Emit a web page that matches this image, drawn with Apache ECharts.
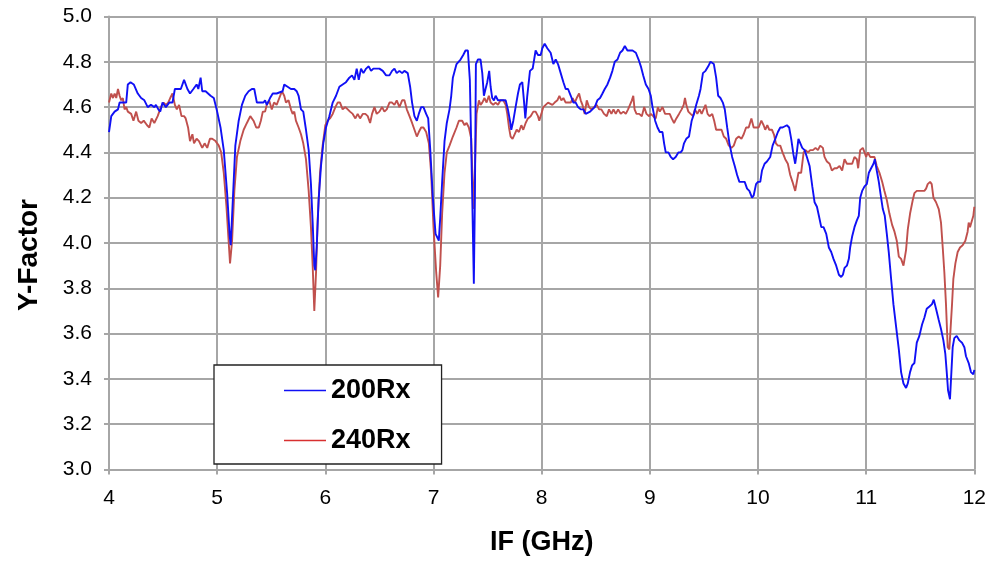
<!DOCTYPE html>
<html>
<head>
<meta charset="utf-8">
<script src="https://cdn.jsdelivr.net/npm/echarts@6/dist/echarts.min.js"></script>
<style>
  html, body { margin: 0; padding: 0; background: #fff; }
  #chart { width: 989px; height: 562px; }
</style>
</head>
<body>
<div id="chart"></div>
<script>
// IF frequency (GHz) and measured Y-factor for the 200 GHz receiver
const freq200 = [
  4.000,4.021,4.052,4.083,4.098,4.128,4.159,4.174,4.199,4.229,4.266,4.297,4.327,4.358,4.388,4.419,4.434,4.456,4.474,4.495,
  4.526,4.557,4.587,4.609,4.633,4.664,4.694,4.725,4.749,4.780,4.810,4.826,4.847,4.862,4.893,4.939,4.969,5.000,5.031,5.061,
  5.092,5.116,5.125,5.138,5.168,5.199,5.229,5.260,5.291,5.321,5.343,5.367,5.398,5.428,5.443,5.459,5.489,5.514,5.550,
  5.605,5.620,5.651,5.682,5.713,5.735,5.753,5.775,5.796,5.821,5.846,5.867,5.883,5.898,5.907,5.920,5.938,5.960,5.981,6.006,
  6.037,6.068,6.099,6.130,6.160,6.191,6.222,6.247,6.269,6.290,6.309,6.330,6.352,6.377,6.401,6.423,6.444,6.469,6.500,6.531,
  6.562,6.593,6.617,6.639,6.660,6.685,6.710,6.731,6.762,6.784,6.802,6.824,6.846,6.864,6.886,6.907,6.932,6.951,6.969,6.994,
  7.019,7.040,7.049,7.062,7.080,7.102,7.123,7.148,7.164,7.179,
  7.213,7.250,7.275,7.296,7.318,7.336,7.349,7.361,7.373,7.383,7.392,7.410,7.435,7.451,7.466,7.481,7.497,7.515,7.528,7.543,
  7.559,7.574,7.596,7.620,7.645,7.667,7.688,7.707,7.719,7.738,7.759,7.781,7.799,7.821,7.836,7.849,7.867,7.892,7.917,7.944,
  7.966,7.991,8.006,8.028,8.052,8.083,8.108,8.130,8.151,8.176,8.201,8.222,8.244,8.269,8.293,8.315,8.336,8.361,8.386,8.407,
  8.423,8.448,8.469,8.491,8.515,8.540,8.562,8.583,8.608,8.633,8.654,8.676,8.701,8.725,8.747,8.769,8.793,
  8.840,8.871,8.896,8.917,8.939,8.963,8.988,9.009,9.025,9.049,9.071,9.092,9.117,9.132,9.147,9.172,9.193,9.215,9.239,9.264,
  9.285,9.301,9.316,9.337,9.362,9.387,9.408,9.429,9.454,9.469,9.491,9.515,9.540,9.561,9.577,9.592,9.613,9.632,9.653,9.675,
  9.693,9.715,9.736,9.761,9.785,9.807,9.828,9.853,9.877,9.899,9.920,9.945,9.960,9.982,10.000,10.021,10.037,10.061,10.083,10.113,
  10.135,10.160,10.184,10.206,10.227,10.245,10.267,10.288,10.307,10.328,10.344,10.359,10.374,
  10.409,10.431,10.452,10.477,10.502,10.523,10.545,10.563,10.585,10.606,10.631,10.655,10.677,10.698,10.723,10.748,10.769,10.785,10.800,10.822,
  10.840,10.852,10.871,10.892,10.914,10.932,10.945,10.963,10.985,11.006,11.025,11.046,11.068,11.080,11.098,11.117,11.138,11.154,11.172,11.191,
  11.209,11.231,11.252,11.277,11.302,11.323,11.345,11.369,11.385,11.406,11.425,11.446,11.468,11.492,11.517,11.538,11.560,11.585,11.609,11.625,
  11.646,11.671,11.692,11.714,11.732,11.745,11.757,11.775,11.788,11.800,11.815,11.837,11.862,11.886,11.908,11.923,11.948,11.969,11.991,12.000
];
const yf200 = [
  4.49,4.56,4.58,4.59,4.62,4.62,4.62,4.70,4.71,4.70,4.66,4.64,4.63,4.60,4.61,4.60,4.61,4.59,4.58,4.62,
  4.60,4.62,4.62,4.68,4.68,4.68,4.72,4.68,4.66,4.68,4.70,4.68,4.73,4.67,4.67,4.65,4.64,4.58,4.51,4.41,
  4.22,4.03,3.99,4.12,4.43,4.54,4.61,4.65,4.67,4.68,4.68,4.62,4.62,4.62,4.63,4.61,4.64,4.66,4.66,
  4.67,4.70,4.69,4.68,4.68,4.67,4.65,4.59,4.58,4.50,4.41,4.26,4.09,3.90,3.88,3.98,4.19,4.34,4.44,4.51,
  4.56,4.62,4.65,4.69,4.70,4.71,4.73,4.74,4.72,4.77,4.72,4.77,4.75,4.77,4.78,4.76,4.77,4.77,4.77,4.76,
  4.74,4.74,4.76,4.77,4.75,4.76,4.75,4.76,4.75,4.69,4.62,4.56,4.54,4.57,4.60,4.60,4.57,4.55,4.42,4.20,
  4.04,4.02,4.01,4.11,4.27,4.45,4.53,4.59,4.65,4.73,
  4.79,4.81,4.83,4.85,4.85,4.72,4.43,4.13,3.82,4.21,4.79,4.81,4.81,4.75,4.65,4.68,4.71,4.76,4.69,4.64,
  4.63,4.65,4.63,4.63,4.63,4.63,4.59,4.54,4.50,4.54,4.60,4.66,4.70,4.71,4.63,4.55,4.65,4.76,4.77,4.85,
  4.83,4.83,4.86,4.88,4.86,4.84,4.79,4.81,4.79,4.75,4.71,4.68,4.68,4.65,4.62,4.62,4.60,4.59,4.59,4.57,
  4.57,4.58,4.59,4.60,4.63,4.64,4.66,4.68,4.70,4.73,4.76,4.80,4.81,4.84,4.85,4.87,4.85,
  4.85,4.84,4.81,4.78,4.74,4.70,4.68,4.65,4.60,4.54,4.51,4.49,4.49,4.44,4.40,4.40,4.38,4.37,4.38,4.40,
  4.40,4.41,4.44,4.46,4.47,4.54,4.57,4.61,4.65,4.68,4.75,4.76,4.78,4.80,4.80,4.79,4.73,4.65,4.64,4.62,
  4.59,4.51,4.44,4.38,4.34,4.30,4.27,4.27,4.27,4.24,4.23,4.20,4.21,4.26,4.27,4.27,4.32,4.35,4.36,4.38,
  4.43,4.46,4.49,4.51,4.51,4.51,4.52,4.51,4.46,4.39,4.35,4.40,4.46,
  4.42,4.41,4.38,4.34,4.25,4.18,4.16,4.12,4.07,4.07,4.04,3.98,3.96,3.93,3.90,3.86,3.85,3.86,3.89,3.90,
  3.93,3.98,4.03,4.07,4.10,4.12,4.20,4.23,4.25,4.26,4.31,4.33,4.35,4.37,4.32,4.27,4.20,4.15,4.12,4.04,
  3.96,3.84,3.73,3.63,3.53,3.43,3.38,3.36,3.38,3.43,3.46,3.47,3.56,3.59,3.64,3.67,3.71,3.72,3.73,3.75,
  3.71,3.66,3.62,3.57,3.51,3.43,3.35,3.31,3.43,3.54,3.58,3.59,3.57,3.56,3.54,3.50,3.47,3.43,3.42,3.44
];

// IF frequency (GHz) and measured Y-factor for the 240 GHz receiver
const freq240 = [
  4.000,4.021,4.037,4.052,4.067,4.083,4.098,4.113,4.128,4.144,4.159,4.174,4.205,4.226,4.251,4.272,4.297,4.321,4.352,4.373,
  4.394,4.419,4.450,4.480,4.505,4.526,4.547,4.566,4.587,4.609,4.627,4.648,4.670,4.694,4.709,4.731,4.749,4.771,4.786,4.810,
  4.832,4.862,4.884,4.908,4.933,4.954,4.985,5.015,5.037,5.061,5.086,5.107,5.119,5.138,5.159,5.183,5.214,5.245,5.275,5.306,
  5.336,5.361,5.385,5.404,5.422,5.443,5.459,5.480,5.505,5.526,5.550,
  5.599,5.620,5.636,5.660,5.682,5.698,5.713,5.728,5.753,5.775,5.796,5.821,5.846,5.867,5.883,5.898,5.914,5.929,5.951,5.975,
  6.000,6.022,6.043,6.068,6.093,6.114,6.136,6.160,6.185,6.207,6.228,6.253,6.278,6.299,6.321,6.346,6.370,6.392,6.414,6.432,
  6.454,6.475,6.500,6.525,6.546,6.568,6.593,6.617,6.639,6.660,6.685,6.710,6.731,6.753,6.778,6.802,6.824,6.846,6.864,6.886,
  6.907,6.932,6.957,6.978,7.000,7.025,7.043,7.062,7.080,7.102,7.123,7.148,7.179,
  7.213,7.235,7.265,7.287,7.306,7.327,7.349,7.361,7.373,7.386,7.398,7.420,7.435,7.451,7.472,7.491,7.512,7.528,7.552,7.574,
  7.596,7.620,7.645,7.667,7.682,7.698,7.713,7.731,7.750,7.769,7.790,7.812,7.830,7.852,7.873,7.898,7.923,7.944,7.966,7.978,
  7.997,8.015,8.037,8.059,8.077,8.099,8.120,8.145,8.164,8.182,8.201,8.222,8.244,8.269,8.287,8.306,8.324,8.346,8.361,8.377,
  8.398,8.417,8.438,8.460,8.485,8.509,8.531,8.552,8.577,8.602,8.623,8.645,8.664,8.685,8.707,8.731,8.756,8.778,8.799,
  8.834,8.847,8.859,8.877,8.902,8.926,8.948,8.969,8.994,9.009,9.031,9.055,9.074,9.092,9.117,9.141,9.163,9.184,9.202,9.224,
  9.245,9.270,9.294,9.313,9.325,9.337,9.356,9.377,9.399,9.417,9.439,9.460,9.479,9.497,9.515,9.534,9.552,9.577,9.595,9.613,
  9.638,9.663,9.684,9.706,9.730,9.755,9.776,9.798,9.822,9.847,9.868,9.890,9.914,9.939,9.960,9.982,10.006,10.031,10.052,10.067,
  10.086,10.104,10.129,10.147,10.166,10.184,10.206,10.227,10.252,10.276,10.298,10.319,10.344,10.359,10.374,10.399,
  10.422,10.440,10.462,10.483,10.508,10.532,10.554,10.575,10.600,10.615,10.637,10.662,10.683,10.708,10.729,10.754,10.778,10.800,10.822,10.846,
  10.871,10.892,10.914,10.926,10.945,10.969,10.985,11.000,11.015,11.037,11.055,11.077,11.098,11.123,11.148,11.169,11.191,11.215,11.240,11.262,
  11.283,11.302,11.323,11.345,11.357,11.369,11.385,11.406,11.431,11.446,11.468,11.492,11.517,11.538,11.554,11.569,11.591,11.606,11.622,11.646,
  11.671,11.692,11.708,11.723,11.738,11.754,11.769,11.785,11.794,11.806,11.825,11.846,11.868,11.892,11.917,11.938,11.948,11.960,11.978,11.991,12.000
];
const yf240 = [
  4.62,4.66,4.64,4.66,4.64,4.68,4.65,4.63,4.64,4.59,4.60,4.58,4.57,4.54,4.58,4.54,4.53,4.54,4.52,4.51,
  4.55,4.53,4.56,4.60,4.62,4.61,4.62,4.64,4.66,4.61,4.59,4.61,4.56,4.56,4.55,4.51,4.45,4.48,4.44,4.46,
  4.45,4.42,4.44,4.42,4.46,4.46,4.45,4.43,4.40,4.31,4.16,4.00,3.91,4.01,4.23,4.38,4.45,4.50,4.53,4.56,
  4.54,4.51,4.51,4.54,4.58,4.58,4.61,4.63,4.59,4.62,4.61,
  4.67,4.65,4.62,4.63,4.59,4.57,4.58,4.54,4.51,4.48,4.44,4.37,4.23,4.07,3.90,3.70,3.87,4.10,4.31,4.43,
  4.52,4.54,4.55,4.57,4.60,4.62,4.62,4.59,4.60,4.59,4.58,4.57,4.55,4.57,4.55,4.57,4.57,4.56,4.53,4.57,
  4.60,4.57,4.58,4.60,4.58,4.59,4.62,4.62,4.61,4.63,4.60,4.63,4.63,4.59,4.56,4.53,4.50,4.47,4.49,4.51,
  4.51,4.49,4.44,4.31,4.07,3.87,3.76,3.90,4.13,4.31,4.40,4.43,4.47,
  4.51,4.54,4.54,4.52,4.53,4.51,4.46,4.28,4.15,4.38,4.57,4.63,4.61,4.62,4.64,4.62,4.65,4.62,4.61,4.62,
  4.61,4.63,4.63,4.61,4.57,4.51,4.47,4.46,4.48,4.50,4.49,4.52,4.50,4.53,4.55,4.56,4.58,4.58,4.56,4.54,
  4.57,4.60,4.61,4.62,4.62,4.61,4.62,4.63,4.65,4.63,4.64,4.62,4.62,4.62,4.64,4.62,4.64,4.66,4.63,4.61,
  4.57,4.63,4.60,4.59,4.60,4.61,4.59,4.59,4.57,4.56,4.59,4.57,4.59,4.57,4.59,4.57,4.58,4.57,4.59,
  4.63,4.65,4.59,4.57,4.57,4.56,4.60,4.57,4.56,4.57,4.56,4.55,4.60,4.58,4.60,4.57,4.57,4.57,4.55,4.53,
  4.55,4.57,4.59,4.61,4.64,4.61,4.58,4.57,4.56,4.59,4.57,4.59,4.57,4.59,4.61,4.57,4.56,4.57,4.54,4.50,
  4.50,4.50,4.47,4.46,4.43,4.42,4.43,4.46,4.47,4.46,4.48,4.51,4.51,4.55,4.51,4.51,4.51,4.54,4.52,4.50,
  4.52,4.50,4.50,4.48,4.44,4.43,4.43,4.40,4.37,4.35,4.30,4.27,4.23,4.27,4.31,4.31,
  4.40,4.41,4.40,4.41,4.41,4.42,4.41,4.43,4.42,4.38,4.36,4.35,4.32,4.33,4.33,4.34,4.32,4.37,4.35,4.35,
  4.35,4.38,4.37,4.33,4.41,4.42,4.40,4.38,4.40,4.38,4.38,4.38,4.34,4.31,4.27,4.23,4.19,4.13,4.08,4.05,
  4.01,3.94,3.93,3.90,3.90,3.97,4.06,4.13,4.19,4.22,4.23,4.23,4.23,4.23,4.24,4.26,4.27,4.26,4.20,4.18,
  4.15,4.09,3.98,3.87,3.73,3.54,3.53,3.53,3.73,3.84,3.91,3.96,3.98,3.99,4.01,4.05,4.09,4.07,4.07,4.12,4.16
];

// Axis tick settings
const xTicks = { min: 4, max: 12, step: 1 };
const yTicks = { min: 3.0, max: 5.0, step: 0.2 };
const seriesNames = ['200Rx', '240Rx'];

const pairs = (xs, ys) => xs.map((x, i) => [x, ys[i]]);

const chart = echarts.init(document.getElementById('chart'), null, { renderer: 'canvas' });

const gridColor = '#a6a6a6';
const labelFont = 'Liberation Sans, Arial, Helvetica, sans-serif';
const narrowFont = 'Liberation Sans Narrow, Arial Narrow, ' + labelFont;

chart.setOption({
  animation: false,
  backgroundColor: '#ffffff',
  grid: { left: 109, right: 13.5, top: 16.5, bottom: 92.5, containLabel: false },
  legend: {
    orient: 'vertical',
    left: 214,
    top: 365,
    data: seriesNames,
    backgroundColor: '#ffffff',
    borderColor: '#222222',
    borderWidth: 1.3,
    padding: [12, 31, 10, 70],
    itemGap: 23,
    itemWidth: 42,
    itemHeight: 26,
    icon: 'path://M0,10 L42,10 L42,11.4 L0,11.4 Z',
    textStyle: {
      fontFamily: labelFont,
      fontWeight: 'bold',
      fontSize: 27,
      color: '#000',
      padding: [0, 0, 0, 0]
    }
  },
  xAxis: {
    type: 'value',
    min: xTicks.min,
    max: xTicks.max,
    interval: xTicks.step,
    name: 'IF (GHz)',
    nameLocation: 'middle',
    nameGap: 60,
    nameTextStyle: {
      fontFamily: narrowFont,
      fontWeight: 'bold',
      fontSize: 27,
      color: '#000'
    },
    axisLine: { show: true, onZero: false, lineStyle: { color: gridColor, width: 2 } },
    axisTick: { show: true, length: 5, lineStyle: { color: gridColor, width: 2 } },
    axisLabel: {
      margin: 18,
      fontFamily: narrowFont,
      fontSize: 21,
      color: '#000'
    },
    splitLine: { show: true, lineStyle: { color: gridColor, width: 2 } }
  },
  yAxis: {
    type: 'value',
    min: yTicks.min,
    max: yTicks.max,
    interval: yTicks.step,
    name: 'Y-Factor',
    nameLocation: 'middle',
    nameGap: 66,
    nameTextStyle: {
      fontFamily: labelFont,
      fontWeight: 'bold',
      fontSize: 28,
      color: '#000',
      padding: [0, 24, 0, 0]
    },
    axisLine: { show: true, lineStyle: { color: gridColor, width: 2 } },
    axisTick: { show: true, length: 5, lineStyle: { color: gridColor, width: 2 } },
    axisLabel: {
      margin: 17,
      fontFamily: labelFont,
      fontSize: 21,
      color: '#000',
      formatter: v => v.toFixed(1)
    },
    splitLine: { show: true, lineStyle: { color: gridColor, width: 2 } }
  },
  series: [
    {
      name: seriesNames[0],
      type: 'line',
      data: pairs(freq200, yf200),
      symbol: 'none',
      z: 3,
      lineStyle: { color: '#1010f5', width: 1.9 },
      itemStyle: { color: '#1010f5' }
    },
    {
      name: seriesNames[1],
      type: 'line',
      data: pairs(freq240, yf240),
      symbol: 'none',
      z: 2,
      lineStyle: { color: '#c0504d', width: 1.9 },
      itemStyle: { color: '#d83030' }
    }
  ]
});
</script>
</body>
</html>
